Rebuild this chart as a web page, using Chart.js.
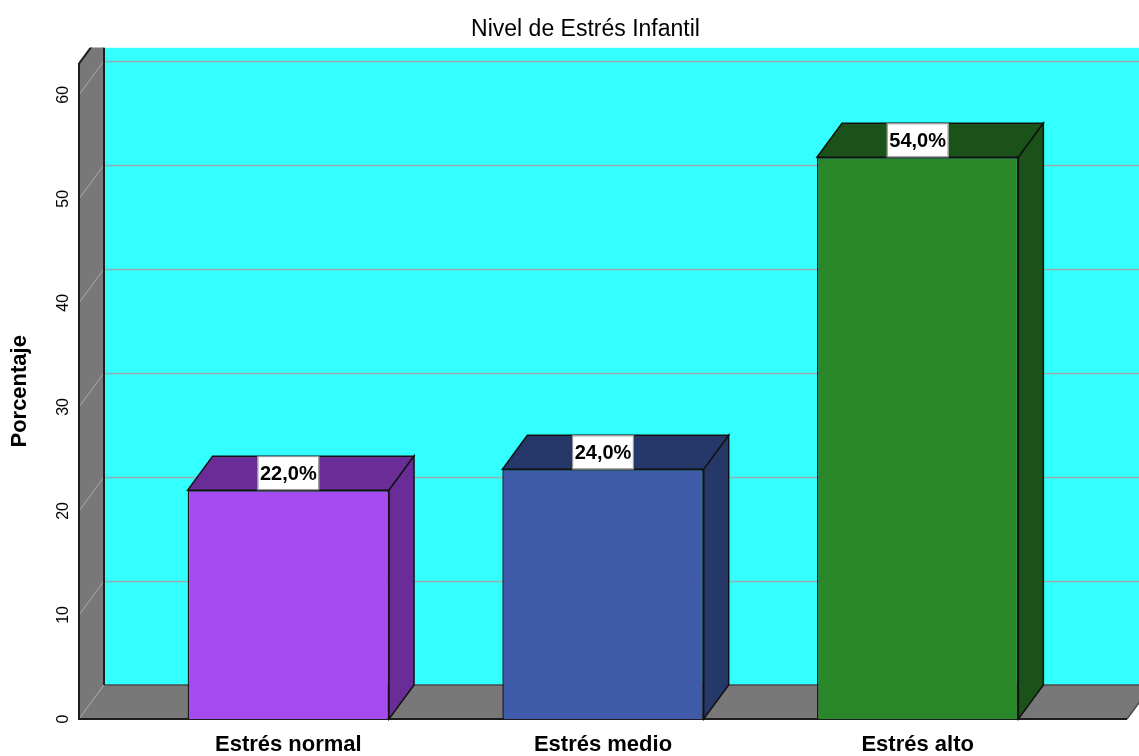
<!DOCTYPE html>
<html>
<head>
<meta charset="utf-8">
<script src="https://cdn.jsdelivr.net/npm/chart.js@4.4.1/dist/chart.umd.min.js"></script>
<style>
  html, body { margin: 0; padding: 0; background: #fff; }
</style>
</head>
<body>
<canvas id="chart" width="1139" height="756"></canvas>
<script>
const categories = ['Estrés normal', 'Estrés medio', 'Estrés alto'];
const percentages = [22.0, 24.0, 54.0];
const yTicks = [0, 10, 20, 30, 40, 50, 60];
const frontColors = ['#a64bf0', '#3f5baa', '#2a872a'];
const shadeColors = ['#6a2c96', '#263869', '#1a521a'];

// depth of the fake 3d box, and how far the floor sticks out past the bars
const DX = 25, DY = 34, SIDE = 52;

Chart.defaults.font.family = '"Liberation Sans", Arial, sans-serif';

function poly(ctx, pts, fill, stroke, lw) {
  ctx.beginPath();
  ctx.moveTo(pts[0][0], pts[0][1]);
  for (let i = 1; i < pts.length; i++) ctx.lineTo(pts[i][0], pts[i][1]);
  ctx.closePath();
  if (fill) { ctx.fillStyle = fill; ctx.fill(); }
  if (stroke) { ctx.strokeStyle = stroke; ctx.lineWidth = lw || 1; ctx.stroke(); }
}

// scales with a fixed size and no extra margin asked from the layout
function fixSize(w, h) {
  return s => {
    if (w != null) s.width = w;
    if (h != null) s.height = h;
    s.paddingTop = s.paddingBottom = 0;
  };
}

const box3d = {
  id: 'box3d',
  beforeDatasetsDraw(chart) {
    const { ctx, chartArea: a, scales: { y } } = chart;
    const x0 = a.left - SIDE, x1 = a.right + SIDE;
    const yb = y.getPixelForValue(0);
    const ytop = y.getPixelForValue(y.max);
    const clipTop = a.top - 16;
    ctx.save();
    ctx.beginPath();
    ctx.rect(0, clipTop, chart.width, chart.height - clipTop);
    ctx.clip();

    // back wall
    ctx.fillStyle = '#33ffff';
    ctx.fillRect(x0 + DX, clipTop, chart.width, yb - DY - clipTop);

    // grid lines on the back wall
    ctx.strokeStyle = '#9aabab';
    ctx.lineWidth = 1.5;
    yTicks.forEach(v => {
      if (v === 0) return;
      const py = Math.round(y.getPixelForValue(v) - DY) + 0.5;
      ctx.beginPath();
      ctx.moveTo(x0 + DX, py);
      ctx.lineTo(chart.width, py);
      ctx.stroke();
    });

    // floor
    poly(ctx, [[x0, yb], [x1, yb], [x1 + DX, yb - DY], [x0 + DX, yb - DY]], '#787878');
    ctx.strokeStyle = '#4a4a4a';
    ctx.lineWidth = 1.5;
    ctx.beginPath();
    ctx.moveTo(x0 + DX, yb - DY); ctx.lineTo(chart.width, yb - DY);
    ctx.moveTo(x1, yb); ctx.lineTo(x1 + DX, yb - DY);
    ctx.stroke();

    // left wall
    poly(ctx, [[x0, yb], [x0, ytop], [x0 + DX, ytop - DY], [x0 + DX, yb - DY]], '#787878');

    // grid lines across the left wall
    ctx.strokeStyle = '#a8a8a8';
    ctx.lineWidth = 1;
    yTicks.forEach(v => {
      const py = y.getPixelForValue(v);
      ctx.beginPath();
      ctx.moveTo(x0, py);
      ctx.lineTo(x0 + DX, py - DY);
      ctx.stroke();
    });

    // edges
    ctx.strokeStyle = '#1e1e1e';
    ctx.lineWidth = 2;
    ctx.beginPath();
    ctx.moveTo(x0 + DX, clipTop); ctx.lineTo(x0 + DX, yb - DY);
    ctx.moveTo(x0 + DX, ytop - DY); ctx.lineTo(x0, ytop); ctx.lineTo(x0, yb); ctx.lineTo(x1, yb);
    ctx.stroke();
    ctx.restore();
  },
  afterDatasetsDraw(chart) {
    const { ctx } = chart;
    const meta = chart.getDatasetMeta(0);
    ctx.save();
    meta.data.forEach((bar, i) => {
      const { x, y, width, base } = bar.getProps(['x', 'y', 'width', 'base'], true);
      const l = x - width / 2, r = x + width / 2;
      poly(ctx, [[l, y], [l + DX, y - DY], [r + DX, y - DY], [r, y]], shadeColors[i], '#111', 1.5);
      poly(ctx, [[r, y], [r + DX, y - DY], [r + DX, base - DY], [r, base]], shadeColors[i], '#111', 1.5);

      const label = percentages[i].toFixed(1).replace('.', ',') + '%';
      ctx.font = 'bold 20px "Liberation Sans", Arial, sans-serif';
      const w = ctx.measureText(label).width + 5;
      ctx.fillStyle = '#fff';
      ctx.fillRect(x - w / 2, y - DY, w, DY);
      ctx.strokeStyle = '#8a8a8a';
      ctx.lineWidth = 1;
      ctx.strokeRect(x - w / 2 + 0.5, y - DY + 0.5, w - 1, DY - 1);
      ctx.fillStyle = '#000';
      ctx.textAlign = 'center';
      ctx.textBaseline = 'middle';
      ctx.fillText(label, x, y - DY / 2 + 1);
    });
    ctx.restore();
  }
};

new Chart(document.getElementById('chart'), {
  type: 'bar',
  data: {
    labels: categories,
    datasets: [{
      data: percentages,
      backgroundColor: frontColors,
      borderColor: '#1a1a1a',
      borderWidth: 1.5,
      barPercentage: 0.64,
      categoryPercentage: 1
    }]
  },
  options: {
    responsive: false,
    animation: false,
    devicePixelRatio: 1,
    layout: { padding: { left: 32, right: 0, top: 0, bottom: 0 } },
    plugins: {
      legend: { display: false },
      tooltip: { enabled: false },
      title: {
        display: true,
        text: 'Nivel de Estrés Infantil',
        color: '#000',
        font: { size: 23, weight: 'normal' },
        padding: { top: 16, bottom: 20 }
      }
    },
    scales: {
      x: {
        offset: true,
        grid: { display: false, drawTicks: false },
        border: { display: false },
        afterFit: fixSize(null, 37),
        ticks: {
          padding: 13,
          color: '#000',
          maxRotation: 0,
          autoSkip: false,
          font: { size: 22, weight: 'bold' }
        }
      },
      y: {
        min: 0,
        max: 63,
        afterBuildTicks: s => { s.ticks = yTicks.map(v => ({ value: v })); },
        afterFit: fixSize(99, null),
        grid: { display: false, drawTicks: false },
        border: { display: false },
        ticks: {
          minRotation: 90,
          maxRotation: 90,
          crossAlign: 'center',
          padding: 59,
          color: '#000',
          font: { size: 16 }
        },
        title: {
          display: true,
          text: 'Porcentaje',
          color: '#000',
          font: { size: 22, weight: 'bold' },
          padding: { top: -25, bottom: 0 }
        }
      },
      // empty right-hand axis, only keeps room for the floor that sticks out
      y2: {
        position: 'right',
        afterFit: fixSize(64, null),
        grid: { display: false, drawTicks: false },
        border: { display: false },
        ticks: { display: false }
      }
    }
  },
  plugins: [box3d]
});
</script>
</body>
</html>
